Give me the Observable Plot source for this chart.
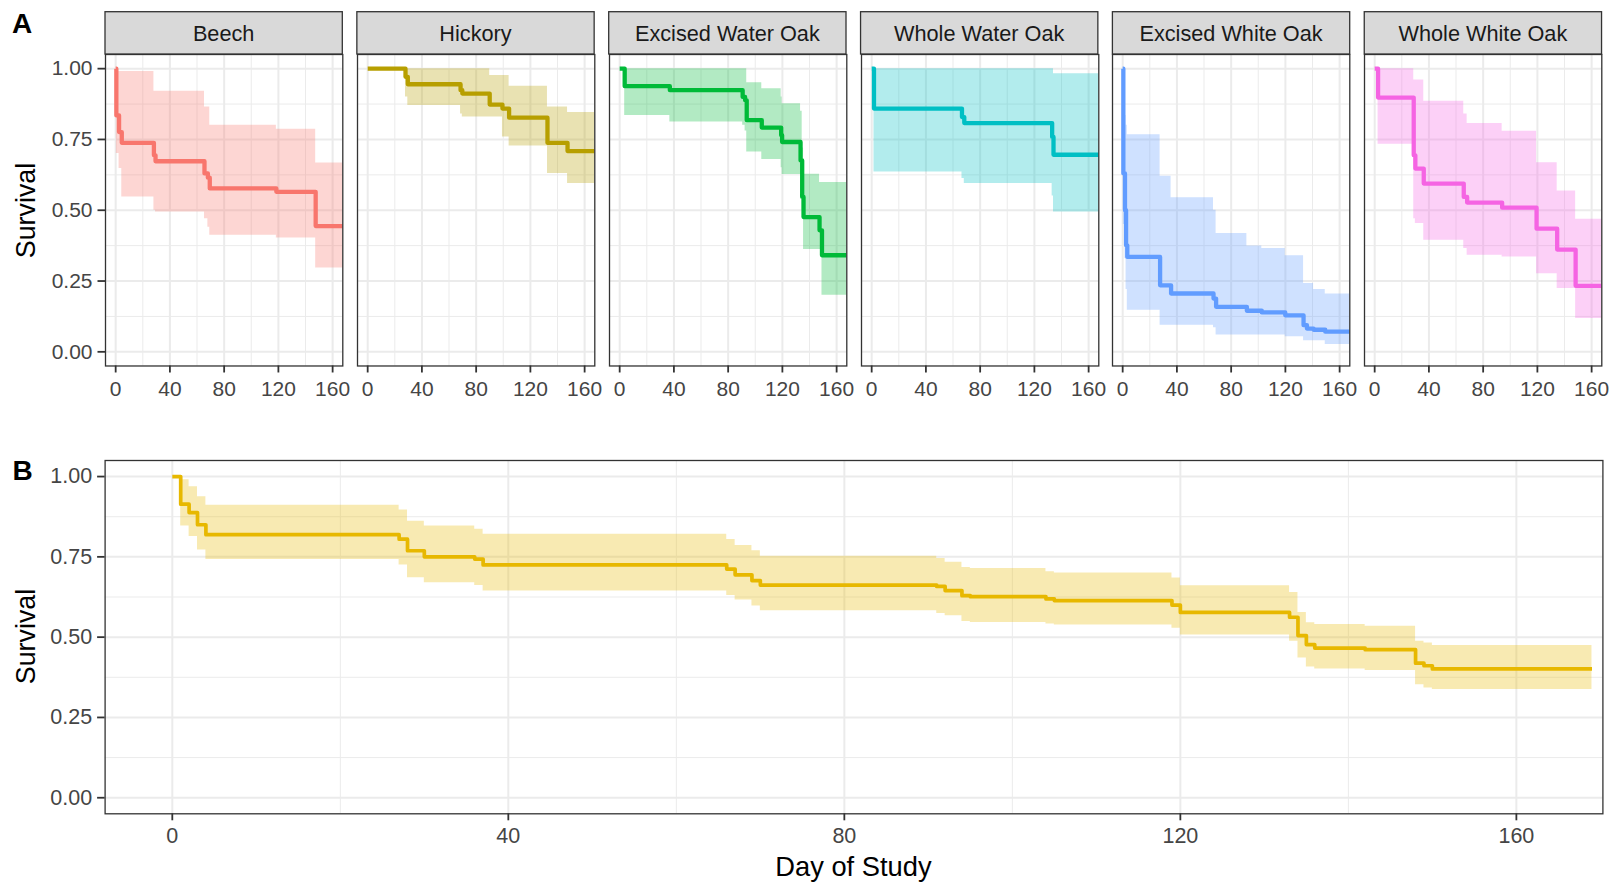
<!DOCTYPE html>
<html>
<head>
<meta charset="utf-8">
<script src="https://cdn.jsdelivr.net/npm/d3@7"></script>
<script src="https://cdn.jsdelivr.net/npm/@observablehq/plot@0.6"></script>
<style>
  html, body { margin: 0; padding: 0; background: #fff; }
  #root { position: relative; width: 1621px; height: 882px; background: #fff; overflow: hidden;
          font-family: "Liberation Sans", Arial, sans-serif; }
</style>
</head>
<body>
<div id="root"></div>
<script>
// ---------------- DATA ----------------
const facetNames = ["Beech", "Hickory", "Excised Water Oak", "Whole Water Oak", "Excised White Oak", "Whole White Oak"];
const facetColors = ["#F8766D", "#B79F00", "#00BA38", "#00BFC4", "#619CFF", "#F564E3"];
const endDay = 169;

const beechDay   = [0, 0.5, 2.5, 4.5, 28.2, 29.4, 65.5, 68, 69.4, 118.5, 147.5];
const beechSurv  = [1, 0.835, 0.776, 0.738, 0.694, 0.673, 0.63, 0.615, 0.577, 0.565, 0.444];
const beechUpper = [1, 0.99, 0.99, 0.99, 0.92, 0.92, 0.865, 0.865, 0.80, 0.786, 0.667];
const beechLower = [1, 0.70, 0.647, 0.547, 0.50, 0.494, 0.47, 0.44, 0.412, 0.402, 0.296];

const hickoryDay   = [0, 27.9, 29.6, 68.5, 69.8, 90, 99.4, 104.3, 132.6, 147.4];
const hickorySurv  = [1, 0.971, 0.945, 0.924, 0.912, 0.873, 0.859, 0.827, 0.738, 0.709];
const hickoryUpper = [1, 1, 1, 1, 1, 0.976, 0.976, 0.938, 0.865, 0.845];
const hickoryLower = [1, 0.90, 0.87, 0.84, 0.829, 0.829, 0.759, 0.727, 0.63, 0.594];

const exWaterDay   = [0, 3.7, 37, 90.7, 92.5, 93.7, 104.8, 119.1, 119.8, 133.4, 134.6, 135.6, 147.4, 149.2];
const exWaterSurv  = [1, 0.938, 0.924, 0.90, 0.888, 0.818, 0.792, 0.765, 0.741, 0.676, 0.547, 0.476, 0.429, 0.341];
const exWaterUpper = [1, 1, 1, 1, 1, 0.95, 0.929, 0.90, 0.876, 0.85, 0.72, 0.627, 0.598, 0.598];
const exWaterLower = [1, 0.835, 0.812, 0.80, 0.78, 0.706, 0.679, 0.65, 0.626, 0.626, 0.50, 0.361, 0.361, 0.20];

const whWaterDay   = [0, 1.7, 66.6, 68.3, 133.1, 134.1];
const whWaterSurv  = [1, 0.859, 0.829, 0.808, 0.759, 0.696];
const whWaterUpper = [1, 1, 1, 1, 1, 0.982];
const whWaterLower = [1, 0.635, 0.612, 0.594, 0.55, 0.494];

const exWhiteDay   = [0, 0.5, 1.7, 2.5, 3.4, 27.6, 35.7, 67, 68.9, 91.6, 102.6, 119.9, 133.4, 135.9, 140.8, 149.4];
const exWhiteSurv  = [1, 0.63, 0.50, 0.376, 0.335, 0.235, 0.206, 0.188, 0.159, 0.145, 0.139, 0.129, 0.094, 0.082, 0.078, 0.071];
const exWhiteUpper = [1, 0.835, 0.835, 0.80, 0.767, 0.62, 0.544, 0.50, 0.418, 0.374, 0.365, 0.339, 0.241, 0.241, 0.22, 0.204];
const exWhiteLower = [1, 0.45, 0.33, 0.22, 0.147, 0.094, 0.094, 0.085, 0.059, 0.059, 0.059, 0.053, 0.039, 0.039, 0.039, 0.026];

const whWhiteDay   = [0, 2.5, 28.8, 30, 36.2, 65.7, 68.2, 94, 119.4, 134.6, 148.2];
const whWhiteSurv  = [1, 0.898, 0.694, 0.647, 0.594, 0.547, 0.527, 0.509, 0.435, 0.361, 0.233];
const whWhiteUpper = [1, 1, 0.96, 0.96, 0.885, 0.84, 0.806, 0.779, 0.668, 0.568, 0.468];
const whWhiteLower = [1, 0.733, 0.47, 0.453, 0.394, 0.365, 0.341, 0.335, 0.276, 0.224, 0.118];

const allColor = "#E7B800";
const allDay   = [0, 1, 2, 3, 4, 27, 28, 30, 36, 37, 66, 67, 69, 70, 91, 92, 94, 95, 104, 105, 119, 120, 133, 134, 135, 136, 142, 148, 149, 150];
const allSurv  = [1.0, 0.914, 0.888, 0.85, 0.819, 0.805, 0.769, 0.750, 0.743, 0.725, 0.712, 0.694, 0.676, 0.662, 0.658, 0.645, 0.629, 0.626, 0.619, 0.614, 0.600, 0.577, 0.562, 0.505, 0.477, 0.466, 0.461, 0.419, 0.411, 0.401];
const allUpper = [1.0, 0.99, 0.968, 0.937, 0.911, 0.896, 0.861, 0.846, 0.836, 0.820, 0.804, 0.785, 0.769, 0.752, 0.745, 0.733, 0.717, 0.714, 0.704, 0.700, 0.684, 0.660, 0.639, 0.577, 0.545, 0.539, 0.534, 0.487, 0.482, 0.474];
const allLower = [1.0, 0.846, 0.813, 0.771, 0.742, 0.725, 0.685, 0.669, 0.661, 0.644, 0.63, 0.616, 0.597, 0.582, 0.574, 0.567, 0.549, 0.546, 0.541, 0.538, 0.528, 0.507, 0.487, 0.435, 0.407, 0.401, 0.396, 0.352, 0.342, 0.337];

const xTicks = [0, 40, 80, 120, 160];
const xMinor = [20, 60, 100, 140];
const yTicks = [0, 0.25, 0.5, 0.75, 1];
const yMinor = [0.125, 0.375, 0.625, 0.875];

// ---------------- BUILD ----------------
function stepRows(day, surv, lower, upper) {
  const rows = day.map((d, i) => ({day: d, surv: surv[i], lower: lower[i], upper: upper[i]}));
  rows.push({...rows[rows.length - 1], day: endDay});
  return rows;
}
const facetRows = [
  stepRows(beechDay, beechSurv, beechLower, beechUpper),
  stepRows(hickoryDay, hickorySurv, hickoryLower, hickoryUpper),
  stepRows(exWaterDay, exWaterSurv, exWaterLower, exWaterUpper),
  stepRows(whWaterDay, whWaterSurv, whWaterLower, whWaterUpper),
  stepRows(exWhiteDay, exWhiteSurv, exWhiteLower, exWhiteUpper),
  stepRows(whWhiteDay, whWhiteSurv, whWhiteLower, whWhiteUpper)
];
const allRows = stepRows(allDay, allSurv, allLower, allUpper);

const FONT = "Liberation Sans, Arial, sans-serif";
const TICK_TEXT = "#454545";
const root = document.getElementById("root");
function place(el, left, top) {
  el.style.position = "absolute";
  el.style.left = left + "px";
  el.style.top = top + "px";
  root.appendChild(el);
}
function gridMarks() {
  return [
    Plot.gridX({ticks: xMinor, stroke: "#EBEBEB", strokeOpacity: 1, strokeWidth: 1}),
    Plot.gridY({ticks: yMinor, stroke: "#EBEBEB", strokeOpacity: 1, strokeWidth: 1}),
    Plot.gridX({ticks: xTicks, stroke: "#EBEBEB", strokeOpacity: 1, strokeWidth: 2}),
    Plot.gridY({ticks: yTicks, stroke: "#EBEBEB", strokeOpacity: 1, strokeWidth: 2})
  ];
}
function curveMarks(rows, color, sw) {
  return [
    Plot.areaY(rows, {x: "day", y1: "lower", y2: "upper", curve: "step-after", fill: color, fillOpacity: 0.3, clip: true}),
    Plot.line(rows, {x: "day", y: "surv", curve: "step-after", stroke: color, strokeWidth: sw, strokeLinecap: "butt", strokeLinejoin: "round", clip: true})
  ];
}

// Panel A geometry
const panelW = 237.3, panelStep = 251.85, panelL0 = 105;
const aTop = 54, aBottom = 365.5, aHeight = 410;
const stripTop = 11.7;

facetRows.forEach((rows, i) => {
  const L = panelL0 + i * panelStep;
  const mL = i === 0 ? 105 : 16;
  const mR = 22;
  const marks = [
    ...gridMarks(),
    ...curveMarks(rows, facetColors[i], 4.3),
    Plot.axisX({ticks: xTicks, tickSize: 7, tickPadding: 8, fontSize: 21, fill: TICK_TEXT, stroke: "#333", strokeWidth: 1.8, label: null}),
    Plot.frame({stroke: "#333333", strokeWidth: 1.3})
  ];
  if (i === 0) {
    marks.push(Plot.axisY({ticks: yTicks, tickFormat: d3.format(".2f"), tickSize: 7.5, tickPadding: 5.5, fontSize: 21,
      fill: TICK_TEXT, stroke: "#333", strokeWidth: 1.8, label: null}));
  }
  const p = Plot.plot({
    width: panelW + mL + mR, height: aHeight,
    marginLeft: mL, marginRight: mR, marginTop: aTop, marginBottom: aHeight - aBottom,
    x: {domain: [-7.5, 167.5]},
    y: {domain: [-0.05, 1.05], axis: i === 0 ? undefined : null},
    style: {fontFamily: FONT, fontSize: "21px", background: "transparent", overflow: "visible"},
    marks
  });
  place(p, L - mL, 0);
});

// Panel B
const bTopSvg = 400, bHeight = 482;
const pB = Plot.plot({
  width: 1621, height: bHeight,
  marginLeft: 104.6, marginRight: 1621 - 1602.4, marginTop: 460 - bTopSvg, marginBottom: bTopSvg + bHeight - 813.3,
  x: {domain: [-8.0, 170.3]},
  y: {domain: [-0.05, 1.05]},
  style: {fontFamily: FONT, fontSize: "21.5px", background: "transparent", overflow: "visible"},
  marks: [
    ...gridMarks(),
    ...curveMarks(allRows, allColor, 3.7),
    Plot.axisX({ticks: xTicks, tickSize: 7, tickPadding: 7, fontSize: 21.5, fill: TICK_TEXT, stroke: "#333", strokeWidth: 1.8, label: null}),
    Plot.axisY({ticks: yTicks, tickFormat: d3.format(".2f"), tickSize: 7.5, tickPadding: 5.5, fontSize: 21.5,
      fill: TICK_TEXT, stroke: "#333", strokeWidth: 1.8, label: null}),
    Plot.frame({stroke: "#333333", strokeWidth: 1.3})
  ]
});
place(pB, 0, bTopSvg);

// Overlay: strips, titles, panel tags
const ov = d3.create("svg").attr("width", 1621).attr("height", 882)
  .style("font-family", FONT).style("pointer-events", "none");
facetNames.forEach((name, i) => {
  const L = panelL0 + i * panelStep;
  ov.append("rect").attr("x", L).attr("y", stripTop).attr("width", panelW).attr("height", aTop - stripTop)
    .attr("fill", "#D9D9D9").attr("stroke", "#333333").attr("stroke-width", 1.3);
  ov.append("text").attr("x", L + panelW / 2).attr("y", 41.3).attr("text-anchor", "middle")
    .attr("font-size", 21.7).attr("fill", "#1A1A1A").text(name);
});
ov.append("text").attr("x", 12).attr("y", 32.5).attr("font-size", 28).attr("font-weight", "bold").attr("fill", "#000").text("A");
ov.append("text").attr("x", 12.5).attr("y", 480).attr("font-size", 28).attr("font-weight", "bold").attr("fill", "#000").text("B");
ov.append("text").attr("transform", "translate(35,210.5) rotate(-90)").attr("text-anchor", "middle")
  .attr("font-size", 26.8).attr("fill", "#000").text("Survival");
ov.append("text").attr("transform", "translate(35,636.5) rotate(-90)").attr("text-anchor", "middle")
  .attr("font-size", 26.8).attr("fill", "#000").text("Survival");
ov.append("text").attr("x", 853.4).attr("y", 876).attr("text-anchor", "middle")
  .attr("font-size", 27.3).attr("fill", "#000").text("Day of Study");
place(ov.node(), 0, 0);
</script>
</body>
</html>
